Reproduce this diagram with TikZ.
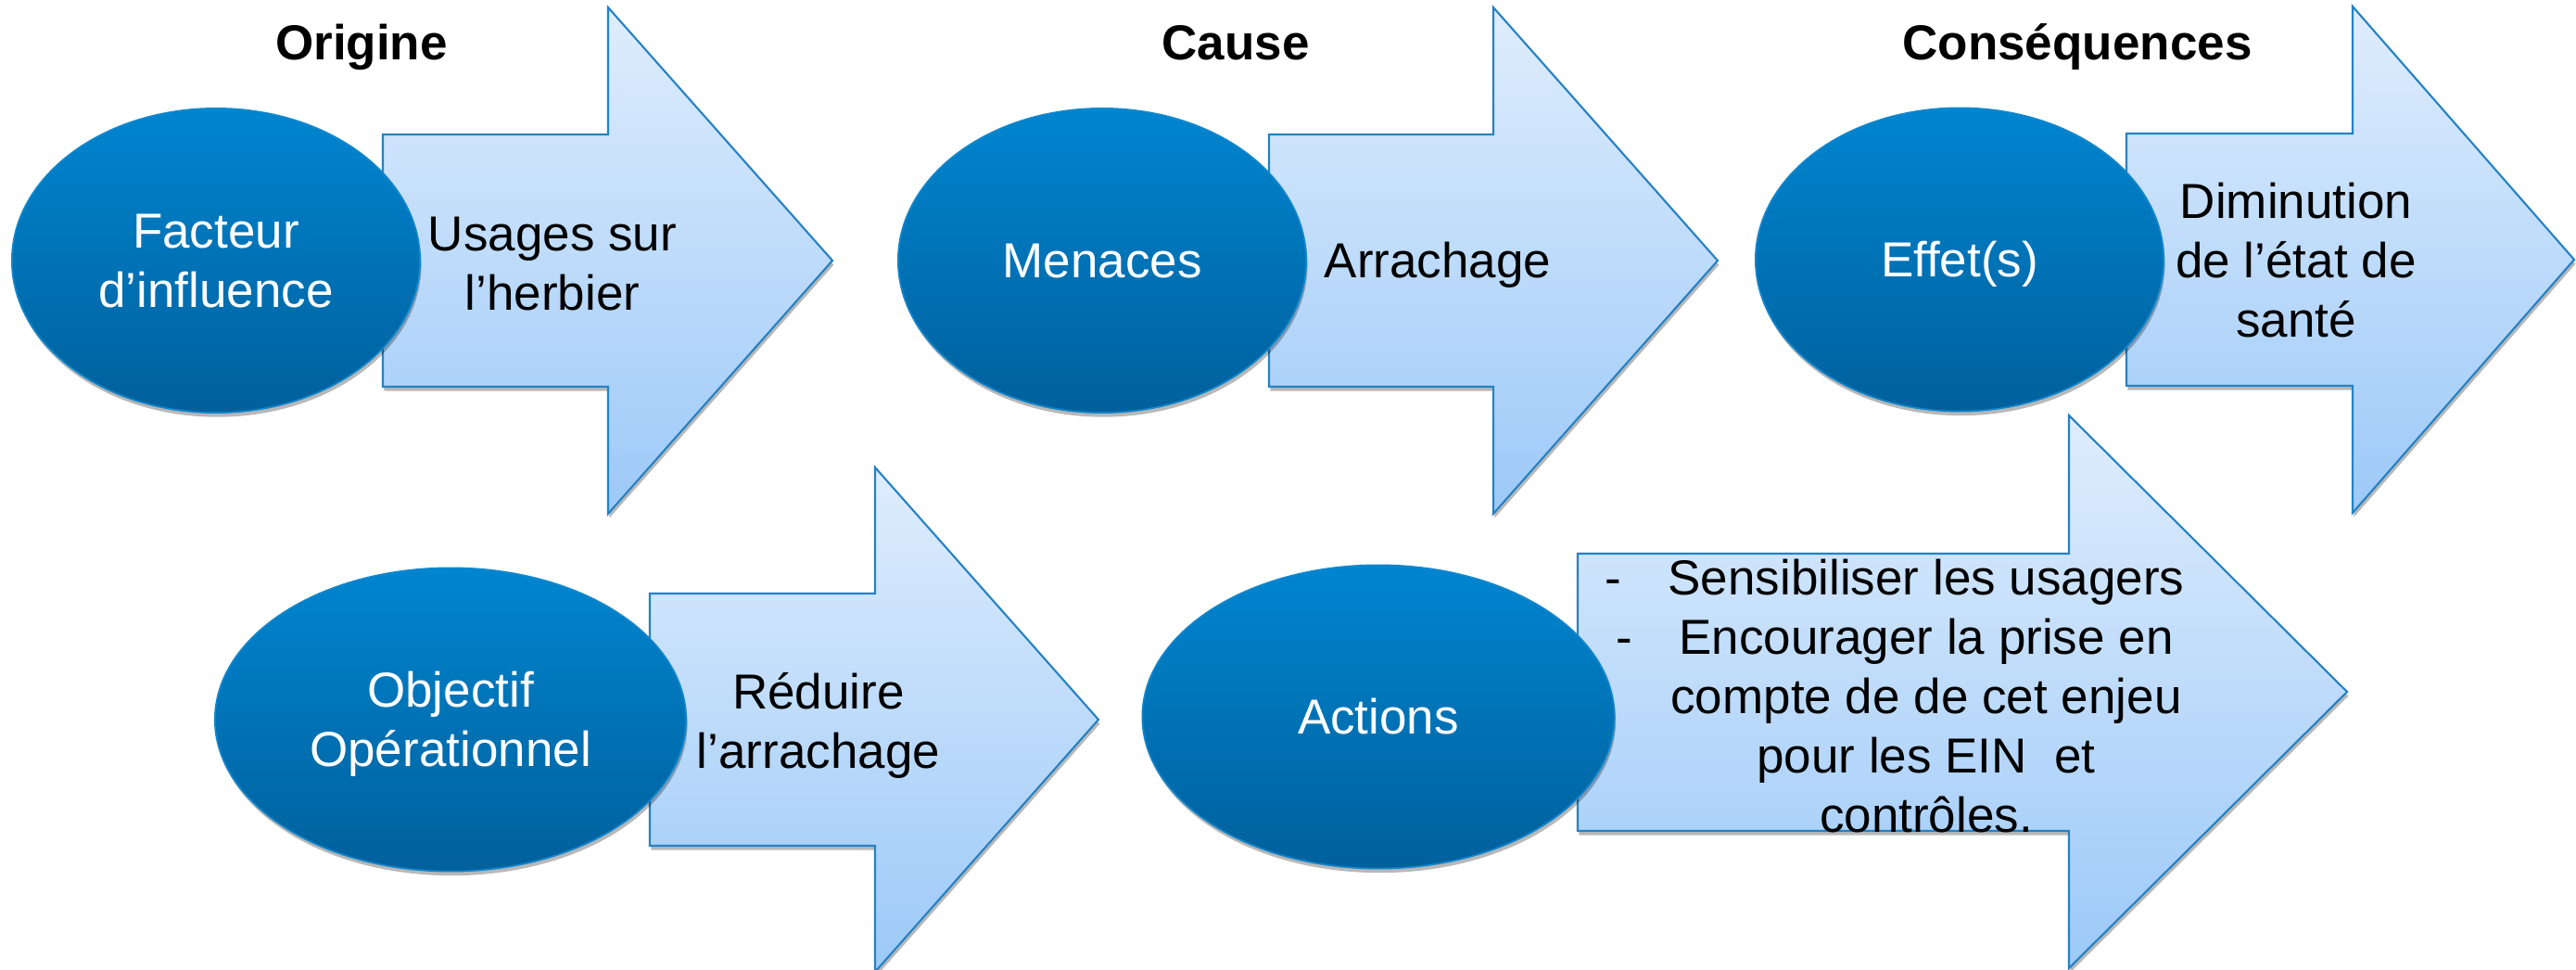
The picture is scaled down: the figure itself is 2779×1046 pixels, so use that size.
\documentclass[tikz,border=0pt]{standalone}
\usepackage{fontspec}
\setmainfont{Liberation Sans}
\usetikzlibrary{shapes.geometric,shadows}
\definecolor{ellTop}{HTML}{0085D0}
\definecolor{ellBot}{HTML}{00609C}
\definecolor{ellLine}{HTML}{1286CC}
\definecolor{arrTop}{HTML}{DFEDFD}
\definecolor{arrBot}{HTML}{9CC9F8}
\definecolor{arrLine}{HTML}{2482C4}
\newcommand\ls{\rule[-0.212em]{0pt}{1.117em}}
\newcommand\bul{\llap{-\hspace{0.5cm}}}
\begin{document}
\begin{tikzpicture}[x=0.01cm,y=-0.01cm,
  every node/.style={font=\fontsize{15.08}{18.21}\selectfont, align=center, inner sep=0pt},
  oval/.style={ellipse, draw=ellLine, line width=0.5pt, top color=ellTop, bottom color=ellBot,
    text=white, drop shadow={shadow xshift=0.4pt, shadow yshift=-1.3pt, opacity=0.28, fill=black}},
  bigarrow/.style={draw=arrLine, line width=0.6pt, line join=miter, top color=arrTop, bottom color=arrBot,
    drop shadow={shadow xshift=0.4pt, shadow yshift=-1.3pt, opacity=0.28, fill=black}},
  heading/.style={font=\fontsize{15.08}{18.21}\selectfont\bfseries},
  intext/.style={text=black}]
\useasboundingbox (0,0) rectangle (2779,1046);
% arrows
\draw[bigarrow] (413,145) -- (656,145) -- (656,8) -- (898,281) -- (656,554) -- (656,417) -- (413,417) -- cycle;
\draw[bigarrow] (1369,145) -- (1611,145) -- (1611,8) -- (1853,281) -- (1611,554) -- (1611,417) -- (1369,417) -- cycle;
\draw[bigarrow] (2294,144) -- (2538,144) -- (2538,7) -- (2777,280) -- (2538,553) -- (2538,416) -- (2294,416) -- cycle;
\draw[bigarrow] (701,640) -- (944,640) -- (944,504) -- (1185,776) -- (944,1048) -- (944,912) -- (701,912) -- cycle;
\draw[bigarrow] (1702,597) -- (2232,597) -- (2232,448) -- (2532,746) -- (2232,1044) -- (2232,896) -- (1702,896) -- cycle;
% ellipses
\node[oval, minimum width=4.40cm, minimum height=3.28cm] (e1) at (233,281) {\ls Facteur\\\ls d’influence};
\node[oval, minimum width=4.40cm, minimum height=3.28cm] (e2) at (1189,281) {\ls Menaces};
\node[oval, minimum width=4.40cm, minimum height=3.27cm] (e3) at (2114,280) {\ls Effet(s)};
\node[oval, minimum width=5.08cm, minimum height=3.27cm] (e4) at (486,776) {\ls Objectif\\\ls Opérationnel};
\node[oval, minimum width=5.09cm, minimum height=3.27cm] (e5) at (1487,773) {\ls Actions};
% arrow texts
\node[intext] (t1) at (596,284) {\ls Usages sur\\\ls l’herbier};
\node[intext] (t2) at (1551,281) {\ls Arrachage};
\node[intext] (t3) at (2477,281) {\ls Diminution\\\ls de l’état de\\\ls santé};
\node[intext] (t4) at (883,778) {\ls Réduire\\\ls l’arrachage};
\node[intext] (t5) at (2078,751) {\ls\bul Sensibiliser les usagers\\\ls\bul Encourager la prise en\\\ls compte de de cet enjeu\\\ls pour les EIN\ \ et\\\ls contrôles.};
% headings
\node[heading] (h1) at (390,46) {\ls Origine};
\node[heading] (h2) at (1333,46) {\ls Cause};
\node[heading] (h3) at (2241,46) {\ls Conséquences};
\end{tikzpicture}
\end{document}
